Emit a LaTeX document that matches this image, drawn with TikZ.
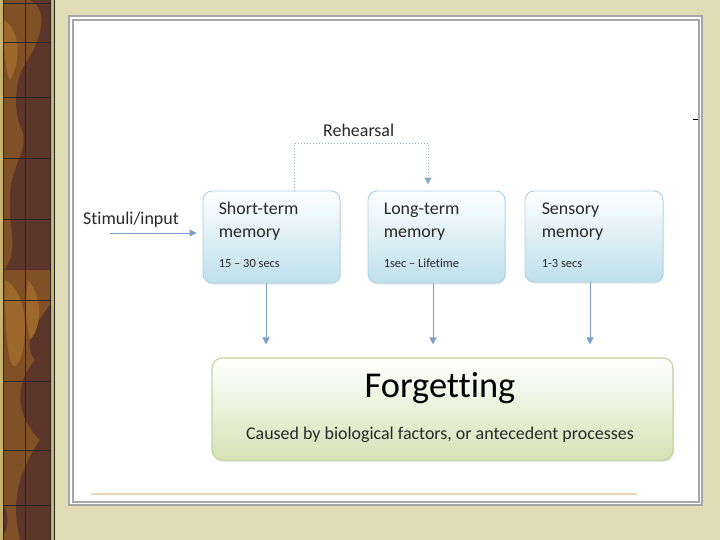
\documentclass[tikz,border=0pt]{standalone}
\usepackage{fontspec}
\setmainfont{Carlito}[Ligatures={NoCommon}]
\usetikzlibrary{arrows.meta,shadows,calc}
\definecolor{beige}{RGB}{223,220,182}
\definecolor{woodbase}{RGB}{128,80,38}
\definecolor{woodlight}{RGB}{156,104,44}
\definecolor{wooddark}{RGB}{92,54,42}
\definecolor{wgold}{RGB}{200,180,110}
\definecolor{framegray}{RGB}{165,165,170}
\definecolor{boxline}{RGB}{170,210,228}
\definecolor{boxfill}{RGB}{190,224,236}
\definecolor{greenline}{RGB}{196,214,160}
\definecolor{greenfill}{RGB}{214,226,182}
\definecolor{arrowblue}{RGB}{125,160,202}
\definecolor{dotblue}{RGB}{140,170,200}
\definecolor{txt}{RGB}{40,40,40}
\definecolor{tan}{RGB}{232,212,182}
\tikzset{
  membox/.style={draw=boxline, line width=0.9bp, rounded corners=9bp,
    top color=white, bottom color=boxfill, minimum width=137bp, minimum height=92bp,
    drop shadow={opacity=0.18, shadow xshift=1bp, shadow yshift=-1.5bp}},
  forgbox/.style={draw=greenline, line width=1.2bp, rounded corners=10bp,
    top color=white, bottom color=greenfill, minimum width=461bp, minimum height=102bp,
    drop shadow={opacity=0.2, shadow xshift=1bp, shadow yshift=-2bp}},
  bigt/.style={font=\fontsize{18}{20}\selectfont, text=txt, anchor=base west, inner sep=0},
  smallt/.style={font=\fontsize{12.5}{14}\selectfont, text=txt, anchor=base west, inner sep=0},
  flow/.style={draw=arrowblue, line width=0.9bp, -{Triangle[width=7bp,length=7bp]}},
  dotflow/.style={draw=dotblue, line width=1bp, dotted, -{Triangle[width=7bp,length=7bp]}},
  woodline/.style={draw=black!85, line width=1bp}
}
\begin{document}
\begin{tikzpicture}[x=1bp,y=-1bp]
\useasboundingbox (0,0) rectangle (720,540);
\fill[beige] (0,0) rectangle (720,540);
% wooden strip
\fill[woodbase] (0,0) rectangle (53,540);
\fill[wooddark] (30,0) .. controls (50,10) and (40,40) .. (28,60) .. controls (15,75) and (12,110) .. (22,130) .. controls (30,150) and (8,170) .. (10,200) .. controls (8,230) and (20,250) .. (4,270) -- (53,270) -- (53,0) -- cycle;
\fill[wooddark] (53,300) .. controls (40,320) and (20,340) .. (35,360) .. controls (10,390) and (20,420) .. (40,440) .. controls (20,470) and (10,500) .. (20,540) -- (53,540) -- cycle;
\fill[woodlight] (4,20) .. controls (20,30) and (22,60) .. (10,80) .. controls (4,70) and (4,40) .. (4,20) -- cycle;
\fill[woodlight] (5,280) .. controls (25,290) and (30,330) .. (20,360) .. controls (10,380) and (5,350) .. (5,280) -- cycle;
\fill[woodlight] (28,280) .. controls (45,300) and (40,330) .. (30,340) .. controls (25,320) and (25,300) .. (28,280) -- cycle;
\fill[wooddark] (0,500) .. controls (10,510) and (10,530) .. (0,540) -- cycle;
\fill[wgold] (0,0) rectangle (3.5,540);
\fill[wgold] (50.5,0) rectangle (54,540);
\draw[woodline] (3.5,0) -- (3.5,540);
\draw[woodline] (50.5,0) -- (50.5,540);
\draw[woodline] (25.5,0) -- (25.5,540);
\draw[woodline] (54,0) -- (54,540);
\foreach \yy in {4,43,98,159,220,300,381,450,505} {\draw[woodline] (3.5,\yy) -- (50.5,\yy);}
% white panel with double frame
\fill[white] (69,16) rectangle (702,505);
\draw[framegray, line width=1.3bp] (69,16) rectangle (702,505);
\draw[framegray, line width=1.3bp] (73,20) rectangle (699,502);
\draw[tan, line width=1.5bp] (91,494) -- (637,494);
\draw[black, line width=1bp] (693,120) -- (698,120);
% boxes
\node[membox] (stm) at (271.5,237) {};
\node[membox] (ltm) at (436.5,237) {};
\node[membox, minimum width=138bp, minimum height=91bp] (sm) at (594,236.5) {};
\node[forgbox] (forg) at (442.5,409) {};
% box texts
\node[bigt] (stm1) at ($(stm.north west)+(16,24)$) {Short-term};
\node[bigt] (stm2) at ($(stm.north west)+(16,47)$) {memory};
\node[smallt] (stm3) at ($(stm.north west)+(16,77)$) {15 – 30 secs};
\node[bigt] (ltm1) at ($(ltm.north west)+(16,24)$) {Long-term};
\node[bigt] (ltm2) at ($(ltm.north west)+(16,47)$) {memory};
\node[smallt] (ltm3) at ($(ltm.north west)+(16,77)$) {1sec – Lifetime};
\node[bigt] (sm1) at ($(sm.north west)+(17,24)$) {Sensory};
\node[bigt] (sm2) at ($(sm.north west)+(17,47)$) {memory};
\node[smallt] (sm3) at ($(sm.north west)+(17,77)$) {1-3 secs};
\node[font=\fontsize{36.5}{40}\selectfont, text=black, anchor=base, inner sep=0] (ft) at (440,397) {Forgetting};
\node[font=\fontsize{18}{20}\selectfont, text=txt, anchor=base, inner sep=0] (fs) at (440,439) {Caused by biological factors, or antecedent processes};
% labels
\node[bigt] (reh) at (323,137) {Rehearsal};
\node[bigt] (stim) at (83,225) {Stimuli/input};
% connectors
\coordinate (sin) at (110,233);
\draw[flow, shorten >=6bp] (sin) -- (sin -| stm.west);
\coordinate (rs) at ($(stm.north)+(22.5,0)$);
\coordinate (rm) at ($(rs)+(0,-47)$);
\coordinate (re) at ($(ltm.north)+(-8.5,0)$);
\draw[dotflow, shorten >=6bp] (rs) -- (rm) -| (re);
\coordinate (d1) at ($(stm.south)+(-5.5,0)$);
\coordinate (d2) at ($(ltm.south)+(-3.5,0)$);
\coordinate (d3) at ($(sm.south)+(-4,0)$);
\draw[flow, shorten >=13bp] (d1) -- (d1 |- forg.north);
\draw[flow, shorten >=13bp] (d2) -- (d2 |- forg.north);
\draw[flow, shorten >=13bp] (d3) -- (d3 |- forg.north);
\end{tikzpicture}
\end{document}
